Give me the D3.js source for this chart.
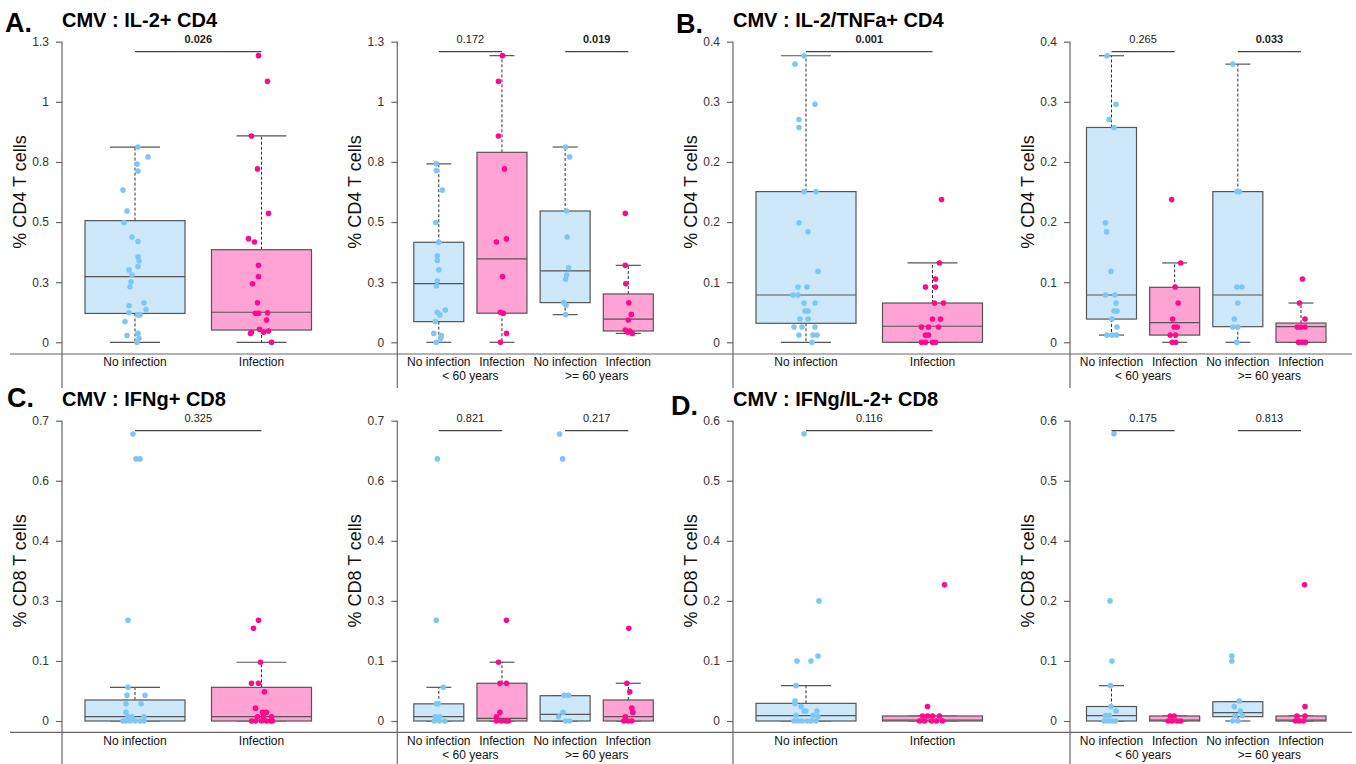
<!DOCTYPE html>
<html>
<head>
<meta charset="utf-8">
<script src="https://cdn.jsdelivr.net/npm/d3@7"></script>
<style>
  body { margin: 0; background: #fff; }
  svg { font-family: "Liberation Sans", Arial, sans-serif; }
</style>
</head>
<body>
<script>
// each point: [value, jitter as fraction of box width]
// box stats: [lower cap, q1, median, q3, upper cap]

// ---- A. CMV : IL-2+ CD4
var ptsA1 = [
  [[0.812,.03],[0.771,.13],[0.741,.02],[0.712,.03],[0.633,-.12],[0.546,-.08],[0.498,-.11],[0.438,-.03],[0.419,.03],[0.356,.03],[0.338,.04],[0.315,.03],[0.301,-.06],[0.280,-.03],[0.252,-.04],[0.231,-.05],[0.152,-.06],[0.164,.09],[0.136,.11],[0.123,-.06],[0.114,.03],[0.114,.05],[0.086,-.10],[0.028,-.08],[0.037,.03],[0.017,.04],[0,.02]],
  [[1.192,-.03],[1.085,.06],[0.858,-.10],[0.721,-.04],[0.536,.07],[0.431,-.13],[0.417,-.07],[0.320,-.03],[0.273,-.03],[0.243,-.09],[0.164,-.04],[0.121,-.06],[0.121,-.03],[0.123,.06],[0.093,.05],[0.042,-.10],[0.054,-.02],[0.042,.02],[0.047,.07],[0.037,-.11],[0,.10]]
];
var boxA1 = [[0,0.12,0.273,0.506,0.812],[0,0.051,0.125,0.385,0.858]];
var ptsA2 = [
  [[0.742,-.05],[0.714,-.05],[0.633,.07],[0.498,-.06],[0.416,0],[0.360,-.03],[0.340,-.03],[0.301,0],[0.255,-.03],[0.234,-.05],[0.134,.13],[0.125,-.03],[0.114,.02],[0.086,-.07],[0.037,-.1],[0.028,.05],[0.017,.04],[0,-.05]],
  [[1.192,.01],[1.085,-.07],[0.858,-.07],[0.721,.05],[0.417,-.11],[0.430,.09],[0.273,.01],[0.125,-.03],[0.121,.03],[0.037,.09],[0,-.03]],
  [[0.812,.01],[0.771,.09],[0.546,.03],[0.438,.04],[0.310,.07],[0.280,.03],[0.262,.01],[0.165,-.03],[0.154,.02],[0.115,.01]],
  [[0.536,-.06],[0.320,-.06],[0.243,-.05],[0.164,.01],[0.116,.06],[0.093,0],[0.051,-.06],[0.047,.03],[0.042,-.01],[0.037,.08]]
];
var boxA2 = [[0,0.086,0.244,0.416,0.742],[0,0.121,0.347,0.790,1.192],[0.115,0.165,0.297,0.546,0.812],[0.037,0.047,0.096,0.201,0.320]];
var ticksA = ["0","0.3","0.5","0.8","1","1.3"];
var pA = [["0.026",true],["0.172",false],["0.019",true]];

// ---- B. CMV : IL-2/TNFa+ CD4
var ptsB1 = [
  [[0.3575,-.02],[0.347,-.11],[0.297,.09],[0.278,-.07],[0.268,-.07],[0.188,-.02],[0.188,.10],[0.149,-.07],[0.138,.02],[0.0885,.12],[0.069,-.08],[0.069,.01],[0.059,-.13],[0.059,-.08],[0.049,-.02],[0.049,.09],[0.039,-.01],[0.039,.02],[0.029,-.06],[0.029,.02],[0.019,-.12],[0.019,-.04],[0.019,.09],[0.009,-.07],[0.009,.07],[0.009,.11],[0,.06]],
  [[0.178,.09],[0.099,.07],[0.079,.03],[0.069,-.07],[0.069,.03],[0.049,.02],[0.049,.11],[0.029,0],[0.029,.08],[0.019,-.11],[0.019,-.04],[0.019,.06],[0.009,-.07],[0.009,-.04],[0,-.11],[0,-.07],[0,0],[0,.03]]
];
var boxB1 = [[0,0.0237,0.059,0.188,0.3575],[0,0,0.020,0.049,0.099]];
var ptsB2 = [
  [[0.3575,-.09],[0.297,.09],[0.278,-.05],[0.268,.05],[0.149,-.12],[0.138,-.10],[0.0885,-.01],[0.059,-.12],[0.059,.07],[0.049,.09],[0.039,.05],[0.039,.11],[0.029,.01],[0.019,.11],[0.009,-.09],[0.009,.01],[0.009,.10]],
  [[0.178,-.06],[0.099,.12],[0.069,.01],[0.049,.07],[0.029,-.04],[0.019,-.01],[0.019,.05],[0.009,-.09],[0.009,.02],[0,-.05],[0,.02]],
  [[0.347,-.10],[0.188,-.02],[0.188,.03],[0.069,-.02],[0.069,.08],[0.049,0],[0.029,-.07],[0.019,-.10],[0.019,0],[0,-.02]],
  [[0.079,.03],[0.049,-.03],[0.029,.08],[0.019,-.07],[0.019,0],[0.019,.08],[0,-.05],[0,.02],[0,.09]]
];
var boxB2 = [[0.009,0.029,0.059,0.268,0.3575],[0,0.009,0.0245,0.0686,0.099],[0,0.0195,0.059,0.188,0.347],[0,0,0.0195,0.024,0.049]];
var ticksB = ["0","0.1","0.2","0.2","0.3","0.4"];
var pB = [["0.001",true],["0.265",false],["0.033",true]];

// ---- C. CMV : IFNg+ CD8
var ptsC1 = [
  [[0.669,-.02],[0.611,.01],[0.611,.05],[0.235,-.07],[0.0785,-.07],[0.060,-.08],[0.060,.10],[0.040,-.09],[0.040,.06],[0.020,-.09],[0.010,-.07],[0.010,-.03],[0.010,.09],[0,-.12],[0,-.09],[0,-.05],[0,0],[0,.05],[0,.09]],
  [[0.235,-.03],[0.216,-.08],[0.137,-.01],[0.088,-.10],[0.088,-.03],[0.068,.03],[0.030,-.06],[0.020,.01],[0.020,.05],[0.010,-.04],[0.010,.02],[0.010,.10],[0,-.10],[0,-.06],[0,0],[0,.05],[0,.09],[0,.11]]
];
var boxC1 = [[0,0,0.0101,0.049,0.0785],[0,0,0.0101,0.0785,0.137]];
var ptsC2 = [
  [[0.611,-.03],[0.235,-.05],[0.0785,.09],[0.040,-.05],[0.040,-.01],[0.010,-.07],[0.010,.02],[0,-.09],[0,.01],[0,.12]],
  [[0.235,.09],[0.137,-.07],[0.088,-.04],[0.088,.09],[0.020,-.04],[0.010,-.11],[0,-.11],[0,-.01],[0,.08],[0,.13]],
  [[0.669,-.11],[0.611,-.05],[0.060,-.02],[0.060,.07],[0.020,-.04],[0.010,-.13],[0,.01],[0,.09]],
  [[0.216,.01],[0.088,-.03],[0.068,.03],[0.030,.07],[0.020,.09],[0.010,-.06],[0,-.09],[0,0],[0,.07]]
];
var boxC2 = [[0,0,0.010,0.040,0.0785],[0,0,0.006,0.088,0.137],[0,0,0.0155,0.059,0.059],[0,0,0.010,0.049,0.088]];
var ticksC = ["0","0.1","0.3","0.4","0.6","0.7"];
var pC = [["0.325",false],["0.821",false],["0.217",false]];

// ---- D. CMV : IFNg/IL-2+ CD8
var ptsD1 = [
  [[0.574,-.02],[0.240,.13],[0.130,.12],[0.120,-.09],[0.120,.05],[0.0706,-.10],[0.040,-.11],[0.035,-.11],[0.029,-.05],[0.020,-.02],[0.020,0],[0.020,.11],[0.0107,-.10],[0.0107,.07],[0.009,.12],[0,-.12],[0,-.08],[0,-.04],[0,.01],[0,.05],[0,.10]],
  [[0.272,.12],[0.029,-.05],[0.010,-.10],[0.010,-.05],[0.010,0],[0.010,.07],[0,-.13],[0,-.08],[0,-.01],[0,.04],[0,.10]]
];
var boxD1 = [[0,0,0.0107,0.0353,0.0706],[0,0,0.002,0.010,0.010]];
var ptsD2 = [
  [[0.574,.05],[0.240,-.03],[0.120,.01],[0.0706,-.02],[0.029,-.01],[0.020,.09],[0.0107,-.12],[0.0107,-.04],[0,-.15],[0,-.07],[0,.01],[0,.08]],
  [[0.010,-.09],[0.010,-.01],[0,-.13],[0,-.05],[0,.05],[0,.12]],
  [[0.130,-.12],[0.120,-.12],[0.040,.03],[0.029,-.07],[0.020,.05],[0.0107,-.05],[0.0107,.09],[0,-.10],[0,0]],
  [[0.272,.07],[0.029,.08],[0.010,-.08],[0.010,.08],[0,-.11],[0,-.03],[0,.05]]
];
var boxD2 = [[0,0,0.0107,0.029,0.0706],[0,0,0.002,0.010,0.010],[0,0.0087,0.0166,0.0386,0.0386],[0,0,0.002,0.010,0.010]];
var ticksD = ["0","0.1","0.2","0.4","0.5","0.6"];
var pD = [["0.116",false],["0.175",false],["0.813",false]];

var groups2 = ["No infection", "Infection"];
var groups4 = ["No infection", "Infection", "No infection", "Infection"];
var ageGroups = ["< 60 years", ">= 60 years"];

var fills = ["#cde8fb", "#ffa2d4"];
var dots = ["#80c6f2", "#ff0a8c"];

var W = 1356, H = 764;
var svg = d3.select("body").append("svg").attr("width", W).attr("height", H);

var rowTop = {y0: 342.3, yTop: 41.7, base: 354, tail: 388};
var rowBot = {y0: 721, yTop: 420.7, base: 732.3, tail: 764};

// row baselines
[rowTop, rowBot].forEach(function (r) {
    svg.append("line").attr("x1", 10).attr("x2", 1352).attr("y1", r.base).attr("y2", r.base)
        .attr("stroke", "#666").attr("stroke-width", 1.2);
});

function subplot(o) {
    var row = o.row;
    var n = o.boxes.length;
    var y = d3.scaleLinear().domain([0, o.max]).range([row.y0, row.yTop]);
    var x = d3.scalePoint().domain(d3.range(n)).range([o.ax + o.c0, o.ax + o.c1]);
    var jit = d3.scaleLinear().domain([-0.5, 0.5]).range([-o.bw / 2, o.bw / 2]);
    var g = svg.append("g");

    g.append("line").attr("x1", o.ax).attr("x2", o.ax).attr("y1", row.yTop).attr("y2", row.tail)
        .attr("stroke", "#666").attr("stroke-width", 1.2);

    var tv = d3.range(6).map(function (i) { return o.max * i / 5; });
    var ax = g.append("g").attr("transform", "translate(" + o.ax + ",0)")
        .call(d3.axisLeft(y).tickValues(tv).tickFormat(function (d, i) { return o.labels[i]; })
            .tickSize(6).tickPadding(7));
    ax.select(".domain").remove();
    ax.selectAll(".tick line").attr("stroke", "#666").attr("stroke-width", 1.2);
    ax.selectAll(".tick text").attr("fill", "#333").style("font-size", "12px")
        .style("font-family", "'Liberation Sans', Arial, sans-serif");

    g.append("text").attr("transform", "translate(" + (o.ax - 36) + "," + ((row.y0 + row.yTop) / 2) + ") rotate(-90)")
        .attr("text-anchor", "middle").style("font-size", "18px").attr("fill", "#111").text(o.ylab);

    o.boxes.forEach(function (b, i) {
        var cx = x(i), c = i % 2;
        var w = o.bw;
        // whiskers
        g.append("line").attr("x1", cx).attr("x2", cx).attr("y1", y(b[3])).attr("y2", y(b[4]))
            .attr("stroke", "#333").attr("stroke-dasharray", "3,2");
        g.append("line").attr("x1", cx).attr("x2", cx).attr("y1", y(b[1])).attr("y2", y(b[0]))
            .attr("stroke", "#333").attr("stroke-dasharray", "3,2");
        [b[0], b[4]].forEach(function (v) {
            g.append("line").attr("x1", cx - w / 4).attr("x2", cx + w / 4).attr("y1", y(v)).attr("y2", y(v))
                .attr("stroke", "#555").attr("stroke-width", 1.2);
        });
        g.append("rect").attr("x", cx - w / 2).attr("y", y(b[3])).attr("width", w)
            .attr("height", Math.max(y(b[1]) - y(b[3]), 0.5))
            .attr("fill", fills[c]).attr("stroke", "#555").attr("stroke-width", 1.2);
        g.append("line").attr("x1", cx - w / 2).attr("x2", cx + w / 2).attr("y1", y(b[2])).attr("y2", y(b[2]))
            .attr("stroke", "#555").attr("stroke-width", 1.2);

        g.selectAll(null).data(o.pts[i]).enter().append("circle")
            .attr("cx", function (d) { return cx + jit(d[1]); })
            .attr("cy", function (d) { return y(d[0]); })
            .attr("r", 2.8).attr("fill", dots[c]);

        g.append("text").attr("x", cx).attr("y", row.y0 + 24).attr("text-anchor", "middle")
            .style("font-size", "12px").attr("fill", "#111").text(o.groups[i]);
    });

    if (n === 4) {
        ageGroups.forEach(function (a, k) {
            g.append("text").attr("x", (x(2 * k) + x(2 * k + 1)) / 2).attr("y", row.y0 + 37.6)
                .attr("text-anchor", "middle").style("font-size", "12px").attr("fill", "#111").text(a);
        });
    }

    o.sig.forEach(function (s, k) {
        var a = x(2 * k), b = x(2 * k + 1);
        g.append("line").attr("x1", a).attr("x2", b).attr("y1", row.yTop + 10).attr("y2", row.yTop + 10)
            .attr("stroke", "#444").attr("stroke-width", 1.2);
        g.append("text").attr("x", (a + b) / 2).attr("y", row.yTop + 1).attr("text-anchor", "middle")
            .style("font-size", "11px").style("font-weight", s[1] ? "bold" : "normal")
            .attr("fill", "#222").text(s[0]);
    });
}

function panel(p) {
    svg.append("text").attr("x", p.lx).attr("y", p.ly).style("font-size", "27px").style("font-weight", "bold")
        .attr("fill", "#000").text(p.letter);
    svg.append("text").attr("x", p.tx).attr("y", p.ty).style("font-size", "20px").style("font-weight", "bold")
        .attr("fill", "#000").text(p.title);
    subplot({row: p.row, ax: p.ax1, c0: 73, c1: 199.5, bw: 100, max: p.max, labels: p.labels,
        boxes: p.box1, pts: p.pts1, groups: groups2, sig: [p.p[0]], ylab: p.ylab});
    subplot({row: p.row, ax: p.ax2, c0: 41.5, c1: 231, bw: 50, max: p.max, labels: p.labels,
        boxes: p.box2, pts: p.pts2, groups: groups4, sig: [p.p[1], p.p[2]], ylab: p.ylab});
}

panel({letter: "A.", lx: 5, ly: 32, title: "CMV : IL-2+ CD4", tx: 62, ty: 27, row: rowTop, ax1: 62, ax2: 397.3,
    max: 1.25, labels: ticksA, box1: boxA1, pts1: ptsA1, box2: boxA2, pts2: ptsA2, p: pA, ylab: "% CD4 T cells"});
panel({letter: "B.", lx: 676, ly: 33, title: "CMV : IL-2/TNFa+ CD4", tx: 733, ty: 27, row: rowTop, ax1: 733, ax2: 1070,
    max: 0.375, labels: ticksB, box1: boxB1, pts1: ptsB1, box2: boxB2, pts2: ptsB2, p: pB, ylab: "% CD4 T cells"});
panel({letter: "C.", lx: 7, ly: 407, title: "CMV : IFNg+ CD8", tx: 62, ty: 406, row: rowBot, ax1: 62, ax2: 397.3,
    max: 0.7, labels: ticksC, box1: boxC1, pts1: ptsC1, box2: boxC2, pts2: ptsC2, p: pC, ylab: "% CD8 T cells"});
panel({letter: "D.", lx: 671, ly: 415, title: "CMV : IFNg/IL-2+ CD8", tx: 733, ty: 406, row: rowBot, ax1: 733, ax2: 1070,
    max: 0.6, labels: ticksD, box1: boxD1, pts1: ptsD1, box2: boxD2, pts2: ptsD2, p: pD, ylab: "% CD8 T cells"});
</script>
</body>
</html>
